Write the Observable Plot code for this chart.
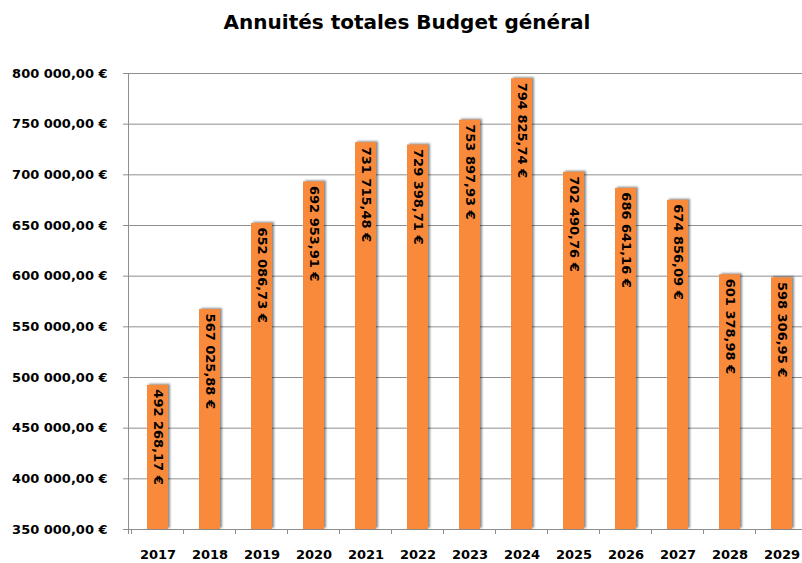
<!DOCTYPE html>
<html>
<head>
<meta charset="utf-8">
<script src="https://cdn.jsdelivr.net/npm/d3@7"></script>
<script src="https://cdn.jsdelivr.net/npm/@observablehq/plot@0.6"></script>
<style>
  html, body { margin: 0; padding: 0; background: #fff; }
  #title { height: 45px; box-sizing: border-box; padding-top: 10px; padding-left: 12px; line-height: 24px;
           text-align: center; font-family: "DejaVu Sans", sans-serif; font-weight: bold; font-size: 20px; color: #000; }
  #chart svg { display: block; }
</style>
</head>
<body>
<div id="title">Annuités totales Budget général</div>
<div id="chart"></div>
<script>
const years = ["2017","2018","2019","2020","2021","2022","2023","2024","2025","2026","2027","2028","2029"];
const annuites = [492268.17, 567025.88, 652086.73, 692953.91, 731715.48, 729398.71, 753897.93, 794825.74, 702490.76, 686641.16, 674856.09, 601378.98, 598306.95];
const yTicks = [350000, 400000, 450000, 500000, 550000, 600000, 650000, 700000, 750000, 800000];

const data = years.map((y, i) => ({year: y, value: annuites[i]}));
const fr = d3.formatLocale({decimal: ",", thousands: " ", grouping: [3], currency: ["", " €"]});
const fmt = fr.format("$,.2f");
const yMin = yTicks[0], yMax = yTicks[yTicks.length - 1];
const gridColor = "#8e8e8e";
const barColor = "#f98a3b";

const plot = Plot.plot({
  width: 802,
  height: 518,
  marginLeft: 128,
  marginRight: 0,
  marginTop: 28,
  marginBottom: 34,
  style: {fontFamily: "DejaVu Sans, sans-serif", fontWeight: "bold", fontSize: "13px", color: "#000", background: "#fff"},
  x: {domain: years, range: [128, 810], paddingInner: 0.6, paddingOuter: 0.3, label: null},
  y: {domain: [yMin, yMax], label: null},
  marks: [
    Plot.ruleY(yTicks, {stroke: gridColor, strokeWidth: 1}),
    Plot.barY(data, {x: "year", y1: () => yMin, y2: "value", fill: barColor}),
    Plot.text(data, {x: "year", y: "value", text: d => fmt(d.value), rotate: 90, textAnchor: "start", dy: 4,
                     fontSize: 13, fontWeight: "bold", fill: "#000"}),
    Plot.axisY({ticks: yTicks, tickSize: 5, tickFormat: () => "", color: gridColor, label: null}),
    Plot.axisY({ticks: yTicks, tickSize: 0, tickPadding: 21, tickFormat: fmt, fill: "#000", fontSize: 13, fontWeight: "bold", label: null}),
    Plot.axisX({tickSize: 0, tickPadding: 20, fontSize: 13, fontWeight: "bold", fill: "#000", label: null})
  ]
});

document.getElementById("chart").appendChild(plot);

// shadow on bars, axis line and category boundary ticks drawn from the plot's scales
const svg = d3.select(plot);
svg.selectAll("g[aria-label='bar']").style("filter", "drop-shadow(2px -1px 1.2px rgba(0,0,0,0.45))");
const xs = plot.scale("x"), ys = plot.scale("y");
const step = xs.step != null ? xs.step : xs.bandwidth / 0.4;
const gap = step - xs.bandwidth;
const yb = ys.apply(yMin), yt = ys.apply(yMax);
const g = svg.append("g").attr("stroke", gridColor).attr("stroke-width", 1);
g.append("line").attr("x1", xs.range[0] + 0.5).attr("x2", xs.range[0] + 0.5).attr("y1", yt).attr("y2", yb + 5);
years.forEach(y => {
  const bx = xs.apply(y) - gap / 2;
  if (bx > xs.range[0] + 1) g.append("line").attr("x1", bx).attr("x2", bx).attr("y1", yb).attr("y2", yb + 5);
});
</script>
</body>
</html>
